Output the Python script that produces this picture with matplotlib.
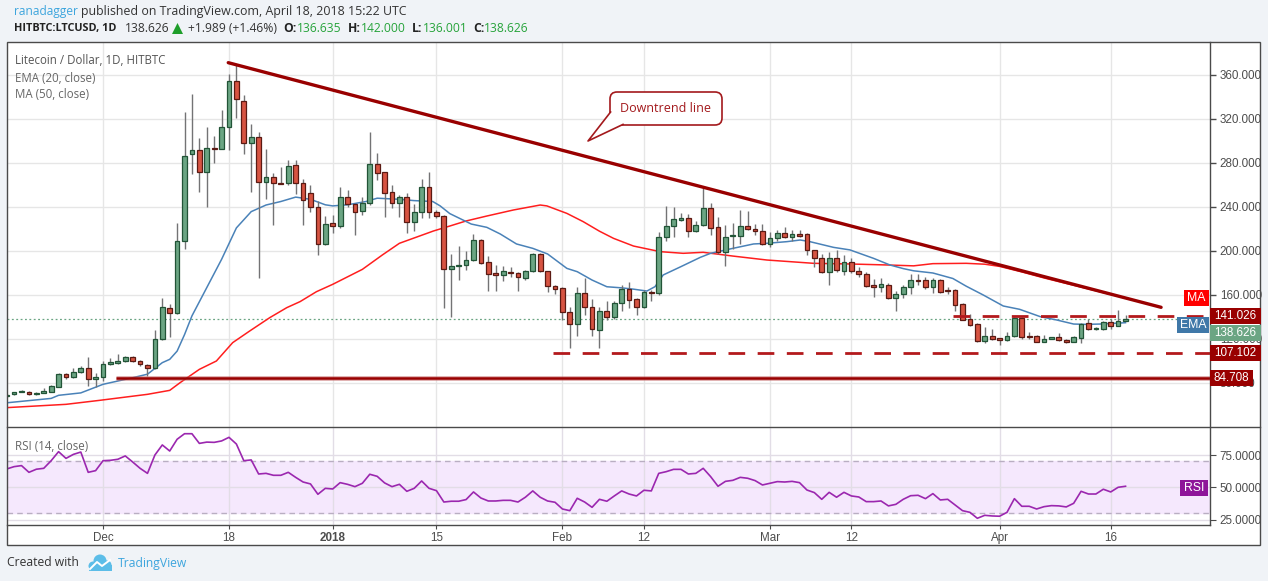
import matplotlib
matplotlib.use("Agg")
import matplotlib.pyplot as plt
import numpy as np
from matplotlib.patches import Rectangle, FancyBboxPatch, Polygon, Circle

# ── datos ── día 0 = 1 dic 2017, primera vela 18 nov
first_day = -13
opens = [68, 70, 72, 72, 70, 71, 72.1, 76.7, 88, 85, 90.3, 93.3, 83.3,
         85.2, 97, 98.5, 100, 103.6, 100, 96, 93.3, 119.7, 148.5, 144, 208.8, 287.9, 291.5, 272, 293.3,
         293, 312.7, 354.5, 336.4, 298.5, 304, 262.4, 267, 261.5, 261.5, 278, 261.8, 253, 240, 206.4,
         225, 222.4, 248.8, 242.4, 236.7, 243.3, 279, 271.4, 254, 244, 248.8, 226.8, 235.2, 257.9, 235.8,
         231.8, 183.3, 186.6, 187.5, 192, 209.6, 189.9, 180, 178.2, 181, 179.7, 175.2, 182, 197.3, 181.5, 168,
         166, 144.5, 133.3, 161.5, 149.4, 128.5, 145, 140, 152.7, 165.5, 156, 149.4, 163, 161.5, 213, 223,
         228.5, 229.7, 218, 224, 238.8, 221.5, 198.8, 213.5, 214, 223, 220.3, 218.5,
         206.4, 211.8, 216.7, 212.7, 215.7, 215, 200.6, 194, 181, 194, 182, 190.3, 182, 179.4, 168.8, 167.3,
         169.4, 157.3, 160.6, 167.6, 173.6, 173.6, 167.6, 173.6, 164, 164.2, 152, 138, 134, 118, 122.7,
         120.6, 119.1, 123, 139, 123, 123, 117.6, 120.3, 121.5, 119.1, 117.6, 121, 134.2, 129, 129, 135.5,
         132, 136.635]
highs = [70, 72, 73.5, 73, 71.5, 75.5, 78, 89.5, 89, 94, 95.5, 103.6, 89,
         100, 103, 106, 104.5, 104.5, 101, 97, 128, 157, 152, 225, 326.7, 342.4, 303, 313, 304.5, 328,
         360.6, 370, 341.8, 315.8, 308.5, 292.4, 271.2, 276.4, 283, 283, 265, 260, 245.5, 231.8,
         232.7, 257.9, 255.5, 243, 249.4, 308, 289.4, 272, 260, 251, 253, 242.7, 265.5, 272, 237, 233,
         197.3, 204.5, 200.3, 215.5, 210.5, 195, 187, 186, 185, 180.5, 183, 198.2, 198, 182, 169.5,
         167, 149, 167, 175, 156, 149, 154.5, 154.5, 169, 171.5, 157, 164.5, 164.5, 217.6, 241, 240,
         234.2, 233.6, 227.6, 257.4, 243.3, 231.2, 223.9, 225.2, 237.3, 236.7, 224.8, 224.2,
         217.3, 219, 221.8, 219, 219.4, 216.1, 201, 197.3, 198.8, 201, 196.4, 193.3, 185.2, 180.9, 174.5,
         175.7, 171.2, 163.6, 169.4, 179, 179, 176.7, 175, 174.5, 167.6, 165, 152.7, 142.4, 134.5, 130.6,
         129.1, 121, 126.1, 140.3, 140, 126.1, 124, 123.6, 121.8, 125.2, 120, 122.7, 134.5, 138.2, 131.2,
         136, 138.2, 146, 142]
lows = [67, 69.5, 71.5, 69, 69.5, 70.5, 71.5, 76, 84, 84.5, 89.5, 77.3, 76,
        82, 96, 97.5, 99, 99.5, 95, 86.4, 92.5, 119, 121.8, 143, 201.5, 269.7, 254, 240, 280.3, 292.4,
        292, 321, 288.5, 254, 175.8, 247, 224, 260.6, 260, 251.5, 224, 235, 196, 205,
        216, 221, 240, 214.5, 232.7, 242, 264.5, 230.6, 238.8, 230.6, 216, 218, 229.7, 229.7, 230, 148,
        140, 173.6, 182.7, 191, 188, 164, 164, 173, 176.7, 164, 174, 181, 181, 163, 161,
        137, 111.5, 123, 141.5, 123, 111.5, 137, 138.5, 145.5, 148, 141.8, 148, 154.8, 160, 209.4, 212.4,
        227.6, 213, 217.3, 223, 214.5, 197, 186, 201.5, 206.4, 219, 214.5, 205,
        203.6, 209.4, 212, 209.4, 213, 196.4, 185.8, 180, 169, 181, 178.2, 179.7, 176.7, 167.6, 157.9,
        162.7, 156, 145.5, 157, 160.9, 169.4, 165.2, 161.5, 162, 160.6, 145.2, 137, 132, 117, 116.2, 119,
        114.8, 118.5, 122, 120, 120, 117, 117, 119.7, 118.5, 116.1, 117, 116.1, 128.5, 128.2, 128.5,
        129.1, 131.5, 136.001]
closes = [69, 71.5, 72.5, 70, 71, 72.5, 77.3, 88, 85, 90.3, 94, 83.3, 85.5,
          97, 99, 100, 103.6, 100, 97, 93.3, 119.7, 149.4, 144, 208.8, 286, 291.5, 272, 293.3, 293, 312.7,
          354.5, 337.9, 298.5, 304, 262.4, 267, 261.5, 261.2, 277, 261.5, 246, 240, 206.7, 224.2,
          222.7, 248.8, 242.4, 235.8, 243.3, 279, 271, 253, 244, 248.8, 226.8, 235.2, 257.9, 235.8, 231.8,
          183.3, 186.6, 187.5, 192, 209.6, 189.3, 179.4, 178.5, 182, 179.7, 176, 182.1, 197.3, 181.5, 168.5,
          165.5,
          144.5, 133.3, 161.5, 149.4, 128.8, 145, 140, 152.7, 165.5, 155.8, 149.4, 163, 161.5, 213, 223,
          228.8, 229.7, 218, 224, 238.8, 220.6, 198.8, 213, 214, 223, 220, 218.2, 206.4,
          211.8, 216.7, 213, 215.7, 214, 200.6, 194, 181, 194, 182.4, 190.3, 182, 179, 168.2, 167.3, 170.3,
          157.3, 160.6, 167.6, 173.6, 172.7, 167.6, 173.6, 163, 163.8, 151, 137.6, 133, 118, 122.7, 120,
          119.1, 123, 139, 121.5, 122, 117.6, 120, 121.5, 119, 117.6, 122, 133.6, 129, 130, 135, 132,
          136.3, 138.626]

ema_days = [-13, -7, -6, -3, 0, 4, 6, 8, 9, 10, 11, 12, 14, 16, 18, 20, 22, 24, 26, 28, 30, 31, 33,
            35.5, 37, 40, 42, 44.5, 45.5, 46.8, 49.7, 51.8, 53.6, 55.8, 58, 60, 62.6, 64, 66, 68, 70,
            71.6, 73.4, 74.5, 75.6, 78, 80.6, 82, 85, 87.8, 89.6, 92.3, 94.1, 95.4, 98.6, 100.8, 104,
            106.2, 108, 109.4, 112, 114.7, 116.5, 118.8, 121.5, 123.7, 126.5, 128.7, 131, 132.7, 134.5,
            136.3, 138]
ema_vals = [62, 66, 68.8, 71, 78.8, 84.8, 88, 98.5, 101.5, 109, 124, 141, 166.7, 192.4, 221, 235.8,
            241.8, 245, 249, 247, 242, 241, 242, 245, 248, 247, 245.8, 245, 241, 234, 224.5, 221.5,
            215.5, 206.4, 202.4, 197.3, 184.2, 181.2, 173.6, 167.5, 166.5, 165.3, 163.6, 167.6, 178.2,
            185.8, 194.2, 197.9, 202.4, 206.4, 207, 208.5, 210, 208.5, 203.3, 201, 193.3, 187.3, 184,
            182, 180, 175, 168, 160, 150, 147, 140.3, 137.3, 133.6, 133.3, 133.6, 134.2, 134.8]
ma_days = [-13, -5, -0.5, 6, 9, 10.4, 13, 15.3, 17.5, 19.8, 22.5, 24.8, 26.6, 28.8, 31, 35, 37.7, 40,
           44.6, 46.8, 49, 51.8, 55.4, 59, 59.9, 62.6, 64.8, 67, 68.9, 71.6, 75.2, 78.3, 81, 85, 89.6,
           95.9, 100.8, 105.8, 109.4, 112, 116.5, 119, 121, 124, 127, 130, 133, 136, 138]
ma_vals = [57.6, 60.6, 64.2, 69.7, 73.3, 80.3, 92.4, 100, 116.7, 127.3, 139.4, 148.5, 154, 163, 169.7,
           183.3, 196.4, 207, 218.2, 222.7, 227.3, 231.8, 237.3, 241.8, 241, 234.2, 226.7, 218, 211.5,
           204.5, 199.4, 197.9, 198.8, 195.4, 191.8, 188.8, 188.2, 187.3, 186.5, 188.5, 188.8, 188, 186,
           181, 175.5, 170.5, 165.5, 160.5, 157.5]
rsi = [64.2, 66, 66.8, 61.6, 64, 64.7, 70.6, 77.6, 72.4, 75.5, 77.3, 61.6, 62.9,
       70.6, 70.9, 71.7, 74.3, 69.6, 64.7, 60.8, 75, 82.8, 78.1, 87.2, 91.5, 91.5, 84, 85, 84.8, 85.9,
       88.7, 83.5, 70.6, 71.2, 60.3, 60.8, 59.3, 59.3, 61.6, 57.7, 54.1, 52.6, 44.6, 49.2,
       48.7, 53.6, 52.3, 50.5, 53.1, 60.1, 58.5, 53.4, 50.5, 52.3, 46.9, 49.2, 54.9, 49.2, 47.4, 38.6,
       39.2, 39.2, 40.5, 46.4, 41.7, 39.4, 39.4, 39.9, 39.9, 38.6, 42.3, 47.2, 42.3, 39.4, 38.4,
       33.2, 31.9, 41.5, 38.6, 34.5, 40.7, 39.2, 43.3, 47.2, 44.8, 43.3, 47.7, 47.2, 60.8, 62.1, 63.9,
       63.9, 60.3, 60.8, 64.7, 58.3, 50.8, 54.6, 55.4, 57.7, 57, 55.2, 51.8,
       53.1, 54.4, 54.1, 54.6, 53.6, 47.9, 45.9, 40.7, 46.1, 42.3, 46.1, 43.3, 42.5, 38.9, 38.9, 39.4,
       35.6, 36.8, 40.7, 43.5, 43.8, 41.2, 45.1, 40.2, 40.7, 36.3, 31.9, 30.6, 26, 28.3, 27.8,
       27.6, 30.6, 41.2, 35.3, 35.3, 33.2, 35, 35.8, 35.6, 34.8, 37.6, 46.9, 44.8, 44.8, 48.5, 46.4,
       50, 50.8]

trend_days = [16.9, 142.8]
trend_vals = [371.2, 148.8]
solid_level, solid_from = 84.708, 1.8
dash_levels = [107.102, 141.026]
dash_from = [60.7, 114.7]
last_close = 138.626
tick_days = [0, 17, 31, 45, 62, 73, 90, 101, 121, 136]
tick_names = ["Dec", "18", "2018", "15", "Feb", "12", "Mar", "12", "Apr", "16"]
price_ticks = list(range(80, 361, 40))

# ── estilo ──
BG = "#f0f3f7"; FRAME = "#4a4a4a"; GRID = "#e6e6e6"; TICK = "#4d4d4d"
UPF, UPE, DNF, DNE, WICK = "#6ba583", "#225437", "#d75442", "#5b1a13", "#737375"
DRED = "#990000"; DASHRED = "#b3191c"; EMA_C = "#4a82b8"; MA_C = "#ff1e1e"
GREEN_TXT = "#26a33a"; BLUE_TXT = "#3da5dd"
AXF = ["Liberation Sans", "DejaVu Sans"]
TXF = ["Open Sans", "DejaVu Sans"]

W, H = 1268, 581
fig = plt.figure(figsize=(W / 100, H / 100), dpi=100)
fig.patch.set_facecolor(BG)


def box(l, t, r, b):
    return [l / W, 1 - b / H, (r - l) / W, (b - t) / H]


# fondo blanco del gráfico (eje propio, debajo de todo)
bg = fig.add_axes([0, 0, 1, 1])
bg.set_xlim(0, W); bg.set_ylim(H, 0); bg.axis("off"); bg.set_zorder(0)
bg.add_patch(Rectangle((7, 42), 1253, 503, fc="white", ec="none"))

ax = fig.add_axes(box(7, 43, 1210, 427))
ar = fig.add_axes(box(7, 427, 1210, 525), sharex=ax)
for a in (ax, ar):
    a.set_facecolor("none")
    a.set_zorder(2)
    for s in a.spines.values():
        s.set_visible(False)

ov = fig.add_axes([0, 0, 1, 1])
ov.set_xlim(0, W); ov.set_ylim(H, 0); ov.axis("off"); ov.set_zorder(10)

days = np.arange(first_day, first_day + len(closes))
o, h, l, c = map(np.array, (opens, highs, lows, closes))
up = c >= o

ax.set_xlim(-12.96, 149.4)
ax.set_ylim(40, 389.09)
ax.set_yticks(price_ticks)
ax.yaxis.tick_right()
ax.set_yticklabels([f"{v:.3f}" for v in price_ticks])
ax.set_xticks(tick_days)
ax.tick_params(axis="x", length=0, labelbottom=False)
ax.tick_params(axis="y", length=4, width=1, color=FRAME, labelcolor=TICK, labelsize=8.4, pad=3)
for t in ax.get_yticklabels():
    t.set_fontfamily(AXF)
ax.grid(color=GRID, lw=1, zorder=0)
ax.set_axisbelow(True)

# medias
ax.plot(ma_days, ma_vals, color=MA_C, lw=1.1, zorder=3)
ax.plot(ema_days, ema_vals, color=EMA_C, lw=1.1, zorder=3)

# velas
ax.vlines(days, l, h, color=WICK, lw=1, zorder=4)
bot = np.minimum(o, c)
hgt = np.maximum(np.abs(c - o), 0.9)
ax.bar(days, hgt, bottom=bot, width=0.64,
       color=[UPF if u else DNF for u in up],
       edgecolor=[UPE if u else DNE for u in up], lw=0.9, zorder=5)

# línea del último cierre
ax.axhline(last_close, color=UPF, lw=0.9, ls=(0, (1.5, 2)), zorder=2)

# niveles y línea de tendencia
ax.plot([solid_from, 149.4], [solid_level] * 2, color="#c06060", lw=3.4, alpha=0.55, zorder=6,
        solid_capstyle="butt")
ax.plot([solid_from, 149.4], [solid_level] * 2, color=DRED, lw=1.8, zorder=6, solid_capstyle="butt")
for lv, d0 in zip(dash_levels, dash_from):
    ax.plot([d0, 149.4], [lv, lv], color=DASHRED, lw=2.0, ls=(0, (6, 4.5)), zorder=6)
ax.plot(trend_days, trend_vals, color=DRED, lw=2.4, zorder=6, solid_capstyle="round")

# RSI
ar.set_ylim(20.8, 96.7)
ar.axhspan(30, 70, color="#f5e8fd", zorder=0)
ar.set_yticks([25, 50, 75])
ar.yaxis.tick_right()
ar.set_yticklabels(["25.0000", "50.0000", "75.0000"])
ar.tick_params(axis="y", length=4, color=FRAME, labelcolor=TICK, labelsize=8.4, pad=3)
ar.set_xticks(tick_days)
ar.set_xticklabels(tick_names)
ar.tick_params(axis="x", length=3, color=FRAME, labelcolor=TICK, labelsize=8.4, pad=2)
for t in ar.get_xticklabels() + ar.get_yticklabels():
    t.set_fontfamily(AXF)
ar.get_xticklabels()[2].set_fontweight("bold")
ar.grid(color="#e2dde6", lw=1, zorder=1)
ar.set_axisbelow(True)
for lv in (30, 70):
    ar.axhline(lv, color="#b9aec2", lw=1, ls=(0, (4, 3)), zorder=1)
ar.plot(days, rsi, color="#9b27af", lw=1.2, zorder=3)

# marco
ov.add_patch(Rectangle((7, 42), 1253, 503, fc="none", ec=FRAME, lw=1))
ov.plot([7, 1260], [427, 427], color=FRAME, lw=1)
ov.plot([7, 1210], [525, 525], color=FRAME, lw=1)
ov.plot([1210, 1210], [42, 525], color=FRAME, lw=1)


def py(p):
    return H - ax.transData.transform((0, p))[1]


# etiquetas del eje de precios
def tag(x0, x1, yc, txt, fc, size=8.4):
    ov.add_patch(Rectangle((x0, yc - 8), x1 - x0, 16, fc=fc, ec="none", zorder=20))
    ov.text((x0 + x1) / 2, yc, txt, color="white", fontsize=size, ha="center", va="center",
            family=AXF, zorder=21)


tag(1210, 1261, py(dash_levels[1]), f"{dash_levels[1]:.3f}", DRED)
tag(1210, 1261, py(last_close) + 14.5, f"{last_close:.3f}", UPF)
tag(1210, 1261, py(dash_levels[0]), f"{dash_levels[0]:.3f}", DRED)
tag(1210, 1253, py(solid_level), f"{solid_level:.3f}", DRED)
tag(1184, 1209, py(ma_vals[-1]), "MA", "#ff0000", 8.8)
tag(1177, 1209, py(ema_vals[-1]) + 2, "EMA", "#3f78a8", 8.8)
tag(1180, 1208, H - ar.transData.transform((0, 50))[1] + 1, "RSI", "#8e1599", 8.8)

# leyendas dentro del gráfico
ov.text(15, 61, "Litecoin / Dollar, 1D, HITBTC", color="#555555", fontsize=8.3, family=TXF, va="center")
ov.text(15, 78, "EMA (20, close)", color="#666666", fontsize=8.3, family=TXF, va="center")
ov.text(15, 95, "MA (50, close)", color="#666666", fontsize=8.3, family=TXF, va="center")
ov.text(15, 446, "RSI (14, close)", color="#666666", fontsize=8.3, family=TXF, va="center")

# globo "Downtrend line"
ov.add_patch(FancyBboxPatch((610, 92), 112, 33, boxstyle="round,pad=0,rounding_size=7",
                            fc="white", ec="#a3191c", lw=1.2, zorder=12))
tip = (588, 141); b1 = (610.6, 112); b2 = (623, 124.4)
ov.add_patch(Polygon([b1, tip, b2, (616, 118)], closed=True, fc="white", ec="none", zorder=13))
ov.add_patch(Polygon([b1, (609, 126), b2], closed=True, fc="white", ec="none", zorder=13))
ov.plot([b1[0], tip[0], b2[0]], [b1[1], tip[1], b2[1]], color="#a3191c", lw=1.2, zorder=14)
ov.text(666, 108.5, "Downtrend line", color="#a3191c", fontsize=9, family=TXF,
        ha="center", va="center", zorder=15)

# cabecera (cada trozo en su posición de la referencia)
ov.text(14, 11, "ranadagger", color=BLUE_TXT, fontsize=8.6, family=TXF, va="center")
ov.text(81, 11, "published on TradingView.com, April 18, 2018 15:22 UTC", color="#333333",
        fontsize=8.9, family=TXF, va="center")
head = [(14, "HITBTC:LTCUSD, 1D", "#222222", "bold", 7.8),
        (125, "138.626", "#333333", "normal", 8.7),
        (188, "+1.989 (+1.46%)", "#333333", "normal", 8.7),
        (283, "O:", "#222222", "bold", 8.7), (297, "136.635", GREEN_TXT, "normal", 8.7),
        (348, "H:", "#222222", "bold", 8.7), (361, "142.000", GREEN_TXT, "normal", 8.7),
        (412, "L:", "#222222", "bold", 8.7), (423, "136.001", GREEN_TXT, "normal", 8.7),
        (473, "C:", "#222222", "bold", 8.7), (484, "138.626", GREEN_TXT, "normal", 8.7)]
for x, s, col, wt, sz in head:
    ov.text(x, 29, s, color=col, fontweight=wt, fontsize=sz, family=TXF, va="center")
ov.add_patch(Polygon([(172, 34), (183, 34), (177.5, 23)], closed=True, fc="#1e9e2a", ec="none"))

# pie
ov.text(7, 563, "Created with", color="#333333", fontsize=8.7, family=TXF, va="center")
for cx, cy, r in [(93, 566, 4.5), (100, 561, 6.5), (107, 565, 4.5)]:
    ov.add_patch(Circle((cx, cy), r, fc="#5cbde8", ec="none"))
ov.add_patch(Rectangle((88.5, 565), 23, 5.5, fc="#5cbde8", ec="none"))
ov.plot([90, 97, 102, 110], [569, 562, 566, 560], color="white", lw=1.4)
ov.text(118, 563, "TradingView", color=BLUE_TXT, fontsize=8.7, family=TXF, va="center")

fig.savefig("out.png", dpi=100, facecolor=BG)
